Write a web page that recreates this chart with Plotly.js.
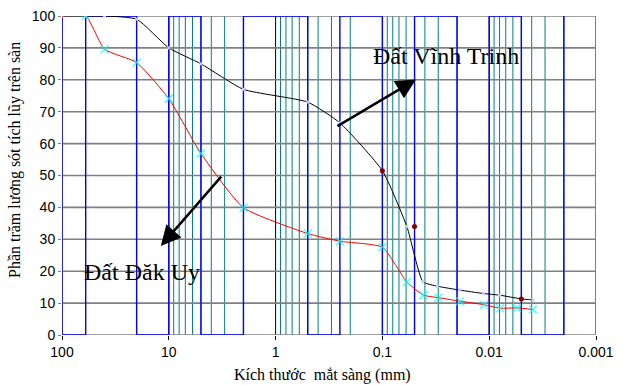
<!DOCTYPE html>
<html>
<head>
<meta charset="utf-8">
<script src="https://cdn.plot.ly/plotly-3.0.1.min.js"></script>
<style>html,body{margin:0;padding:0;background:#fff;}#chart{width:625px;height:385px;}</style>
</head>
<body>
<div id="chart"></div>
<script>
// ---- data ----
var xTickVals = [100, 10, 1, 0.1, 0.01, 0.001];
var xTickText = ['100', '10', '1', '0.1', '0.01', '0.001'];
var yTickVals = [0, 10, 20, 30, 40, 50, 60, 70, 80, 90, 100];

// sieve sizes (blue square-wave lines)
var sieveSizes = [100, 60, 20, 10, 5, 2, 0.5, 0.25, 0.1, 0.05, 0.02, 0.01, 0.005, 0.002];

// Đất Vĩnh Trinh (black curve)
var vtSize = [100, 60, 40, 20, 10, 5, 2, 0.5, 0.25, 0.1, 0.059, 0.0417, 0.0306, 0.019, 0.0113, 0.008, 0.005, 0.0039];
var vtPct  = [100, 100, 100, 99, 90, 85, 77, 73, 66.5, 51.5, 34, 16.7, 15.3, 14.1, 13.0, 12.5, 11.3, 11.0];

// Đất Đăk Uy (red curve)
var duSize = [100, 60, 40, 20, 10, 5, 2, 0.5, 0.25, 0.1, 0.059, 0.0413, 0.0299, 0.0187, 0.0112, 0.0079, 0.0055, 0.0039];
var duPct  = [100, 100, 89.6, 85.4, 74.1, 56.9, 39.9, 31.8, 29.4, 27.5, 16.6, 12.5, 11.7, 10.6, 9.5, 8.4, 8.5, 8.0];

// extra dark red points
var ptSize = [0.1, 0.05, 0.005];
var ptPct  = [51.5, 34, 11.3];

// ---- build ----
var minorX = [], minorY = [];
for (var e = 1; e >= -3; e--) {
  for (var m = 2; m <= 9; m++) {
    var v = m * Math.pow(10, e - 1);
    if (v > 100 || v < 0.001) continue;
    minorX.push(v, v, null); minorY.push(0, 100, null);
  }
}
var majX = [], majY = [];
xTickVals.forEach(function(v){ majX.push(v, v, null); majY.push(0, 100, null); });
var hX = [], hY = [];
yTickVals.forEach(function(v){ hX.push(100, 0.001, null); hY.push(v, v, null); });

var sqX = [sieveSizes[0]], sqY = [100];
for (var i = 0; i < sieveSizes.length; i++) {
  var lev = (i % 2 === 0) ? 0 : 100;
  sqX.push(sieveSizes[i]); sqY.push(lev);
  if (i + 1 < sieveSizes.length) { sqX.push(sieveSizes[i+1]); sqY.push(lev); }
  else { sqX.push(sieveSizes[i]); sqY.push(lev === 0 ? 100 : 0); }
}

var duMarkSize = duSize.map(function(_, k){ return k === 0 ? 0 : 8; });

var traces = [
  {x: minorX, y: minorY, mode: 'lines', line: {color: '#008080', width: 1}, hoverinfo: 'skip'},
  {x: majX, y: majY, mode: 'lines', line: {color: '#000000', width: 1}, hoverinfo: 'skip'},
  {x: hX, y: hY, mode: 'lines', line: {color: '#808080', width: 1.6}, hoverinfo: 'skip'},
  {x: sqX, y: sqY, mode: 'lines', line: {color: '#0000FF', width: 1.4}, hoverinfo: 'skip'},
  {x: vtSize, y: vtPct, mode: 'lines+markers', line: {color: '#000000', width: 1, shape: 'spline', smoothing: 0.5},
   marker: {symbol: 'square', size: 3, color: '#c8c8ff'}},
  {x: duSize, y: duPct, mode: 'lines+markers', line: {color: '#FF0000', width: 1, shape: 'spline', smoothing: 0.5},
   marker: {symbol: 'x-thin-open', size: duMarkSize, color: '#00FFFF', line: {color: '#00FFFF', width: 1.5}}},
  {x: ptSize, y: ptPct, mode: 'markers', marker: {symbol: 'circle', size: 5, color: '#800000'}}
];

var serif = '"Liberation Serif", "Times New Roman", serif';
var sans = '"Liberation Sans", Arial, sans-serif';
var layout = {
  width: 625, height: 385,
  margin: {l: 62, r: 29, t: 16, b: 50},
  paper_bgcolor: '#ffffff', plot_bgcolor: '#ffffff',
  showlegend: false,
  xaxis: {
    type: 'log', range: [2, -3], autorange: false,
    tickvals: xTickVals, ticktext: xTickText,
    showgrid: false, zeroline: false, showline: false,
    ticks: 'outside', ticklen: 4, tickcolor: '#000', tickwidth: 1,
    tickfont: {family: sans, size: 14, color: '#000'}
  },
  yaxis: {
    range: [0, 100], autorange: false, tickvals: yTickVals,
    showgrid: false, zeroline: false, showline: false,
    ticks: 'outside', ticklen: 3, tickcolor: '#808080',
    tickfont: {family: sans, size: 14, color: '#000'}
  },
  annotations: [
    {xref: 'paper', yref: 'paper', x: (15 - 62) / 534, y: (335 - 160) / 319, text: 'Phần trăm lương sót tích lũy trên sàn',
     textangle: -90, showarrow: false, xanchor: 'center', yanchor: 'middle', font: {family: serif, size: 16, color: '#000'}},
    {xref: 'paper', yref: 'paper', x: (322 - 62) / 534, y: (335 - 375) / 319, text: 'Kích thước  mắt sàng (mm)',
     showarrow: false, xanchor: 'center', yanchor: 'middle', font: {family: serif, size: 16, color: '#000'}},
    {xref: 'x', yref: 'y', x: -1.6, y: 87.4, text: 'Đất Vĩnh Trinh', showarrow: false,
     xanchor: 'center', yanchor: 'middle', font: {family: serif, size: 24, color: '#000'}},
    {xref: 'x', yref: 'y', x: 1.25, y: 19.8, text: 'Đất Đăk Uy', showarrow: false,
     xanchor: 'center', yanchor: 'middle', font: {family: serif, size: 24, color: '#000'}},
    {xref: 'x', yref: 'y', axref: 'x', ayref: 'y', x: -1.315, y: 80.1, ax: -0.565, ay: 65.2, text: '',
     showarrow: true, arrowhead: 2, arrowsize: 1.6, arrowwidth: 2.5, arrowcolor: '#000'},
    {xref: 'x', yref: 'y', axref: 'x', ayref: 'y', x: 1.075, y: 27.9, ax: 0.497, ay: 50.1, text: '',
     showarrow: true, arrowhead: 2, arrowsize: 1.6, arrowwidth: 2.5, arrowcolor: '#000'}
  ]
};

Plotly.newPlot('chart', traces, layout, {staticPlot: true, displayModeBar: false});
</script>
</body>
</html>
